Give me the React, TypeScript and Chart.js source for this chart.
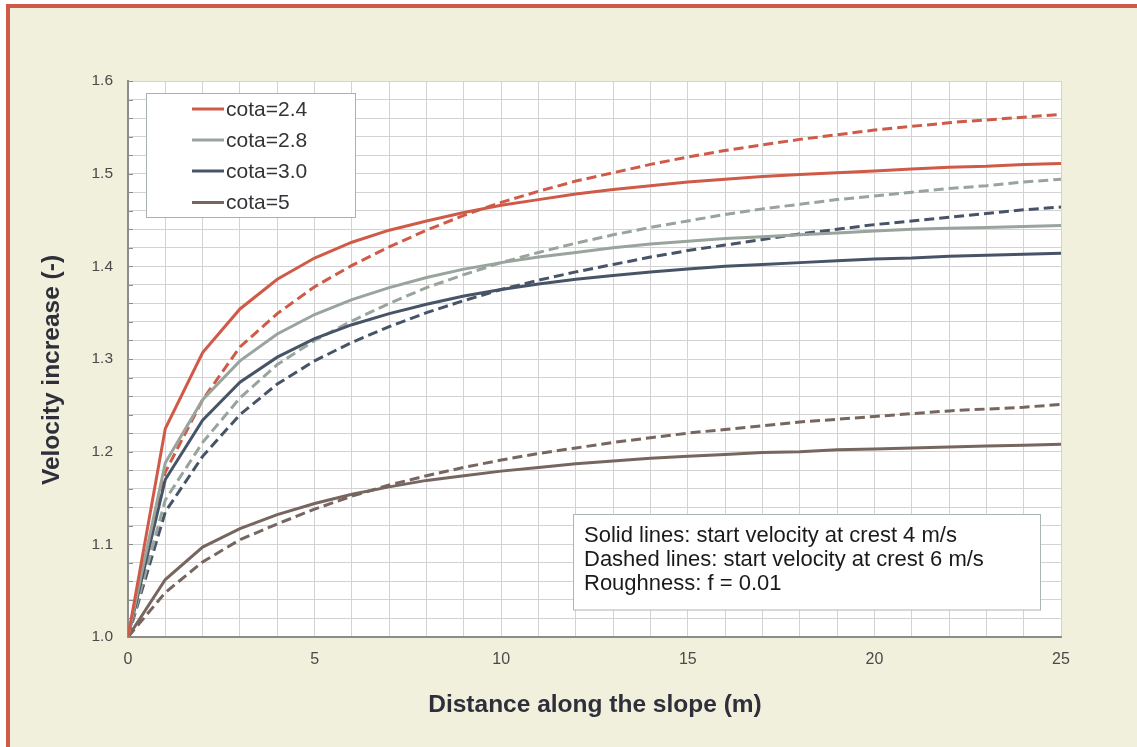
import React, { useEffect, useRef } from "react";
import { Chart, registerables } from "chart.js";

Chart.register(...registerables);

// ---------- data ----------
const distance = [0, 1, 2, 3, 4, 5, 6, 7, 8, 9, 10, 11, 12, 13, 14, 15, 16, 17, 18, 19, 20, 21, 22, 23, 24, 25];

const cota24Solid = [1.0, 1.225, 1.307, 1.354, 1.386, 1.409, 1.426, 1.439, 1.449, 1.458, 1.466, 1.472, 1.478, 1.483, 1.487, 1.491, 1.494, 1.497, 1.499, 1.501, 1.503, 1.505, 1.507, 1.508, 1.51, 1.511];
const cota28Solid = [1.0, 1.188, 1.256, 1.298, 1.327, 1.348, 1.364, 1.377, 1.388, 1.397, 1.404, 1.41, 1.415, 1.42, 1.424, 1.427, 1.43, 1.432, 1.434, 1.436, 1.438, 1.44, 1.441, 1.442, 1.443, 1.444];
const cota30Solid = [1.0, 1.17, 1.234, 1.275, 1.302, 1.322, 1.337, 1.349, 1.359, 1.368, 1.375, 1.381, 1.386, 1.39, 1.394, 1.397, 1.4, 1.402, 1.404, 1.406, 1.408, 1.409, 1.411, 1.412, 1.413, 1.414];
const cota5Solid = [1.0, 1.062, 1.097, 1.117, 1.132, 1.144, 1.154, 1.162, 1.169, 1.174, 1.179, 1.183, 1.187, 1.19, 1.193, 1.195, 1.197, 1.199, 1.2, 1.202, 1.203, 1.204, 1.205, 1.206, 1.207, 1.208];

const cota24Dashed = [1.0, 1.178, 1.256, 1.313, 1.349, 1.378, 1.401, 1.421, 1.439, 1.455, 1.469, 1.481, 1.492, 1.501, 1.51, 1.518, 1.525, 1.531, 1.537, 1.542, 1.547, 1.551, 1.555, 1.558, 1.561, 1.564];
const cota28Dashed = [1.0, 1.148, 1.21, 1.258, 1.294, 1.32, 1.341, 1.36, 1.377, 1.391, 1.404, 1.415, 1.425, 1.434, 1.442, 1.449, 1.456, 1.462, 1.467, 1.472, 1.476, 1.48, 1.484, 1.487, 1.491, 1.494];
const cota30Dashed = [1.0, 1.135, 1.195, 1.24, 1.273, 1.298, 1.318, 1.335, 1.35, 1.363, 1.375, 1.385, 1.394, 1.402, 1.41, 1.417, 1.423, 1.429, 1.435, 1.44, 1.445, 1.449, 1.453, 1.457, 1.461, 1.464];
const cota5Dashed = [1.0, 1.048, 1.081, 1.105, 1.122, 1.138, 1.152, 1.164, 1.174, 1.183, 1.191, 1.198, 1.204, 1.21, 1.215, 1.22, 1.224, 1.228, 1.232, 1.235, 1.238, 1.241, 1.244, 1.246, 1.248, 1.251];

const seriesLabels = ["cota=2.4", "cota=2.8", "cota=3.0", "cota=5"];
const seriesColors = ["#cf5a47", "#98a49c", "#475467", "#76665f"];

const xTitle = "Distance along the slope (m)";
const yTitle = "Velocity increase (-)";
const noteLines = [
  "Solid lines: start velocity at crest 4 m/s",
  "Dashed lines: start velocity at crest 6 m/s",
  "Roughness: f = 0.01",
];

const xMin = 0;
const xMax = 25;
const yMin = 1.0;
const yMax = 1.6;

const FONT = "'Liberation Sans', Arial, Helvetica, sans-serif";

function toPoints(vals: number[]) {
  return distance.map((x, i) => ({ x, y: vals[i] }));
}

export default function App() {
  const canvasRef = useRef<HTMLCanvasElement | null>(null);

  useEffect(() => {
    const canvas = canvasRef.current;
    if (!canvas) return;

    const solids = [cota24Solid, cota28Solid, cota30Solid, cota5Solid];
    const dashes = [cota24Dashed, cota28Dashed, cota30Dashed, cota5Dashed];

    const datasets: any[] = [];
    solids.forEach((s, i) => {
      datasets.push({
        label: seriesLabels[i],
        data: toPoints(s),
        borderColor: seriesColors[i],
        backgroundColor: seriesColors[i],
        borderWidth: 3,
        pointRadius: 0,
        tension: 0,
        fill: false,
      });
    });
    dashes.forEach((s, i) => {
      datasets.push({
        label: seriesLabels[i] + " (6 m/s)",
        data: toPoints(s),
        borderColor: seriesColors[i],
        backgroundColor: seriesColors[i],
        borderWidth: 3,
        borderDash: [10, 5],
        borderCapStyle: "butt",
        pointRadius: 0,
        tension: 0,
        fill: false,
      });
    });

    const decor = {
      id: "decor",
      beforeDraw(chart: any) {
        const { ctx, chartArea } = chart;
        ctx.save();
        ctx.fillStyle = "#ffffff";
        ctx.fillRect(chartArea.left, chartArea.top, chartArea.right - chartArea.left, chartArea.bottom - chartArea.top);
        ctx.restore();
      },
      beforeDatasetsDraw(chart: any) {
        const { ctx, chartArea, scales } = chart;
        const ys = scales.y;
        ctx.save();
        ctx.strokeStyle = "#8c8c8c";
        ctx.lineWidth = 1;
        ys.ticks.forEach((t: any) => {
          const py = Math.round(ys.getPixelForValue(t.value)) + 0.5;
          ctx.beginPath();
          ctx.moveTo(chartArea.left, py);
          ctx.lineTo(chartArea.left + 5, py);
          ctx.stroke();
        });
        ctx.restore();
      },
      afterDraw(chart: any) {
        const { ctx } = chart;
        ctx.save();

        // legend box
        ctx.fillStyle = "#ffffff";
        ctx.fillRect(146.5, 93.5, 209, 124);
        ctx.strokeStyle = "#a9b1af";
        ctx.lineWidth = 1;
        ctx.strokeRect(146.5, 93.5, 209, 124);
        const legendYs = [109, 140, 171, 202.5];
        seriesLabels.forEach((lab, i) => {
          const y = legendYs[i];
          ctx.strokeStyle = seriesColors[i];
          ctx.lineWidth = 3;
          ctx.setLineDash([]);
          ctx.beginPath();
          ctx.moveTo(192, y);
          ctx.lineTo(224, y);
          ctx.stroke();
          ctx.fillStyle = "#333338";
          ctx.font = `21px ${FONT}`;
          ctx.textAlign = "left";
          ctx.textBaseline = "middle";
          ctx.fillText(lab, 226, y + 1);
        });

        // note box
        ctx.fillStyle = "#ffffff";
        ctx.fillRect(573.5, 514.5, 467, 95.5);
        ctx.strokeStyle = "#a9b6b2";
        ctx.lineWidth = 1;
        ctx.strokeRect(573.5, 514.5, 467, 95.5);
        ctx.fillStyle = "#1a1a1a";
        ctx.font = `22px ${FONT}`;
        ctx.textAlign = "left";
        ctx.textBaseline = "alphabetic";
        const noteYs = [541.5, 566, 590];
        noteLines.forEach((t, i) => ctx.fillText(t, 584, noteYs[i]));

        // axis titles
        ctx.fillStyle = "#2f2f3b";
        ctx.font = `bold 24.5px ${FONT}`;
        ctx.textAlign = "center";
        ctx.textBaseline = "middle";
        ctx.fillText(xTitle, 595, 705);

        ctx.save();
        ctx.translate(52, 370);
        ctx.rotate(-Math.PI / 2);
        ctx.fillText(yTitle, 0, 0);
        ctx.restore();

        ctx.restore();
      },
    };

    const chart = new Chart(canvas, {
      type: "line",
      data: { datasets },
      options: {
        animation: false,
        responsive: false,
        devicePixelRatio: 1,
        layout: { padding: { left: 0, top: 81, right: 76, bottom: 0 } },
        plugins: {
          legend: { display: false },
          tooltip: { enabled: false },
          title: { display: false },
        },
        scales: {
          x: {
            type: "linear",
            min: xMin,
            max: xMax,
            afterFit: (s: any) => {
              s.height = 110;
            },
            grid: { color: "#d3d3d3", lineWidth: 1, drawTicks: false },
            border: { color: "#8c8c8c", width: 2 },
            ticks: {
              stepSize: 1,
              autoSkip: false,
              maxRotation: 0,
              padding: 13,
              color: "#4a4a4a",
              font: { family: FONT, size: 16 },
              callback: (v: any) => (Number(v) % 5 === 0 ? String(v) : ""),
            },
          },
          y: {
            type: "linear",
            min: yMin,
            max: yMax,
            afterFit: (s: any) => {
              s.width = 128;
            },
            grid: { color: "#d3d3d3", lineWidth: 1, drawTicks: false },
            border: { color: "#8c8c8c", width: 2 },
            ticks: {
              stepSize: 0.02,
              autoSkip: false,
              padding: 15,
              color: "#4a4a4a",
              font: { family: FONT, size: 15.5 },
              callback: (v: any) => {
                const r = Math.round(Number(v) * 100);
                return r % 10 === 0 ? (r / 100).toFixed(1) : "";
              },
            },
          },
        },
      } as any,
      plugins: [decor],
    });

    return () => chart.destroy();
  }, []);

  return (
    <div style={{ position: "fixed", left: 0, top: 0, width: 1137, height: 747, background: "#ffffff", overflow: "hidden" }}>
      <div
        style={{
          position: "absolute",
          left: 6,
          top: 4,
          width: 1200,
          height: 800,
          background: "#f1f0dc",
          borderTop: "4px solid #cf5a47",
          borderLeft: "4px solid #cf5a47",
          boxSizing: "border-box",
        }}
      />
      <canvas ref={canvasRef} width={1137} height={747} style={{ position: "absolute", left: 0, top: 0, width: 1137, height: 747 }} />
    </div>
  );
}
